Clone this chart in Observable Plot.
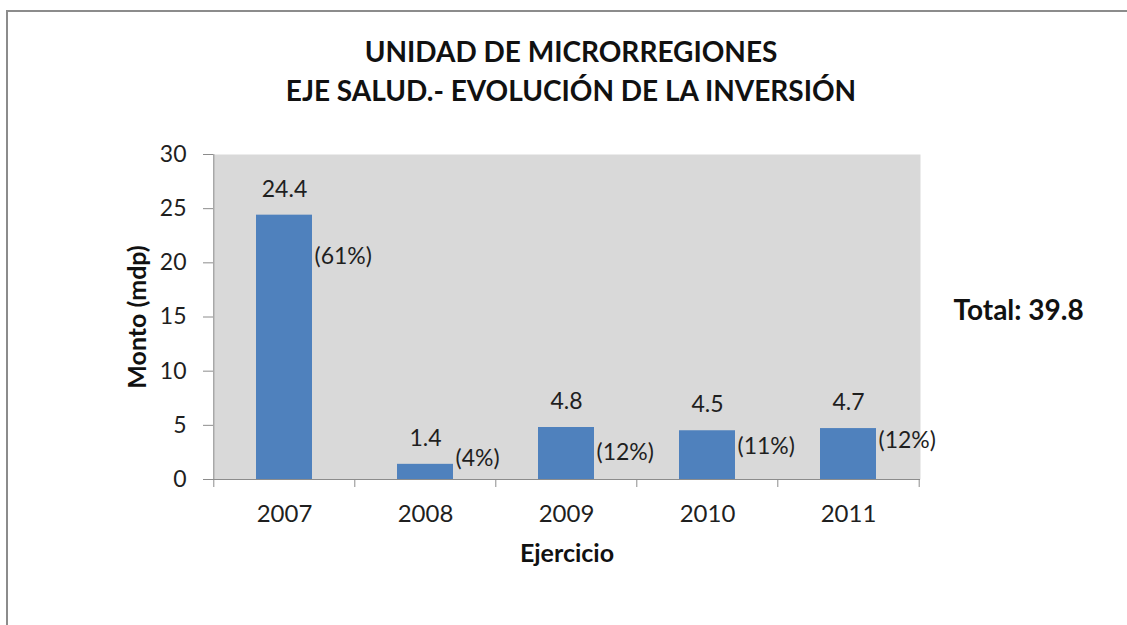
<!DOCTYPE html>
<html><head><meta charset="utf-8">
<script src="https://cdn.jsdelivr.net/npm/d3@7"></script>
<script src="https://cdn.jsdelivr.net/npm/@observablehq/plot@0.6"></script>
<style>
html,body{margin:0;padding:0;background:#fff;overflow:hidden}
#wrap{position:relative;width:1127px;height:625px;overflow:hidden;background:#fff}
#chart{position:absolute;left:0;top:0}
#border{position:absolute;left:6px;top:10px;width:1300px;height:800px;border-left:2px solid #8c8c8c;border-top:2px solid #8c8c8c;z-index:2;pointer-events:none}
</style></head><body>
<div id="wrap"><div id="chart"></div><div id="border"></div></div>
<script>
// ---- data ----
const years = ["2007", "2008", "2009", "2010", "2011"];
const values = [24.4, 1.4, 4.8, 4.5, 4.7];
const valueLabels = ["24.4", "1.4", "4.8", "4.5", "4.7"];
const shares = ["(61%)", "(4%)", "(12%)", "(11%)", "(12%)"];
const shareAt = [20.6, 1.9, 2.5, 3.0, 3.6];
const yTicks = [0, 5, 10, 15, 20, 25, 30];
const titleLines = ["UNIDAD DE MICRORREGIONES", "EJE SALUD.- EVOLUCIÓN DE LA INVERSIÓN"];
const totalLabel = ["Total: 39.8"];
const xTitle = ["Ejercicio"];
const yTitle = ["Monto (mdp)"];

const rows = years.map((y, i) => ({year: y, value: values[i], label: valueLabels[i], share: shares[i], shareAt: shareAt[i]}));

// ---- layout ----
const W = 1127, H = 625;
const mL = 213, mR = 207, mT = 154, mB = 146;
const step = (W - mL - mR) / years.length;
const font = "Lato, 'Open Sans', sans-serif";
const ink = "#1f1f1f";
const axisGrey = "#8c8c8c";

const chart = Plot.plot({
  width: W, height: H,
  marginLeft: mL, marginRight: mR, marginTop: mT, marginBottom: mB,
  style: {fontFamily: font, background: "transparent", color: ink},
  x: {type: "band", domain: years, paddingInner: 0.6, paddingOuter: 0.3, label: null},
  y: {domain: [0, 30], label: null},
  marks: [
    Plot.frame({fill: "#d9d9d9", stroke: null}),
    Plot.barY(rows, {x: "year", y: "value", fill: "#4f81bd"}),
    // axis lines
    Plot.ruleY([0], {stroke: axisGrey}),
    Plot.ruleX([years[0]], {dx: -step / 2, stroke: axisGrey}),
    // category boundary ticks
    Plot.ruleX(years, {x: d => d, y1: 0, y2: 0, dx: -step / 2, insetBottom: -8, stroke: axisGrey}),
    Plot.ruleX([years[years.length - 1]], {y1: 0, y2: 0, dx: step / 2, insetBottom: -8, stroke: axisGrey}),
    Plot.axisY({ticks: yTicks, tickSize: 10, tickPadding: 17, stroke: axisGrey, fill: ink, fontSize: 23, tickFormat: d => String(d), label: null}),
    Plot.axisX({tickSize: 0, tickPadding: 25, fill: ink, fontSize: 24, label: null}),
    // value labels
    Plot.text(rows, {x: "year", y: "value", text: "label", dy: -26, fontSize: 23, fill: ink, lineAnchor: "middle"}),
    Plot.text(rows, {x: "year", y: "shareAt", text: "share", dx: 30, textAnchor: "start", fontSize: 23, fill: ink, lineAnchor: "middle"}),
    // titles
    Plot.text([titleLines[0]], {text: d => d, frameAnchor: "top", dx: 4, dy: -101, fontSize: 28, fontWeight: "bold", fill: "#111", lineAnchor: "middle"}),
    Plot.text([titleLines[1]], {text: d => d, frameAnchor: "top", dx: 4, dy: -62, fontSize: 28, fontWeight: "bold", fill: "#111", lineAnchor: "middle"}),
    Plot.text(totalLabel, {text: d => d, frameAnchor: "right", dx: 33, dy: -6, textAnchor: "start", fontSize: 28, fontWeight: "bold", fill: "#111", lineAnchor: "middle"}),
    Plot.text(xTitle, {text: d => d, frameAnchor: "bottom", dy: 74, fontSize: 25, fontWeight: "bold", fill: "#111", lineAnchor: "middle"}),
    Plot.text(yTitle, {text: d => d, frameAnchor: "left", dx: -76, rotate: -90, textAnchor: "middle", fontSize: 25, fontWeight: "bold", fill: "#111", lineAnchor: "middle"})
  ]
});
document.getElementById("chart").appendChild(chart);
</script>
</body></html>
